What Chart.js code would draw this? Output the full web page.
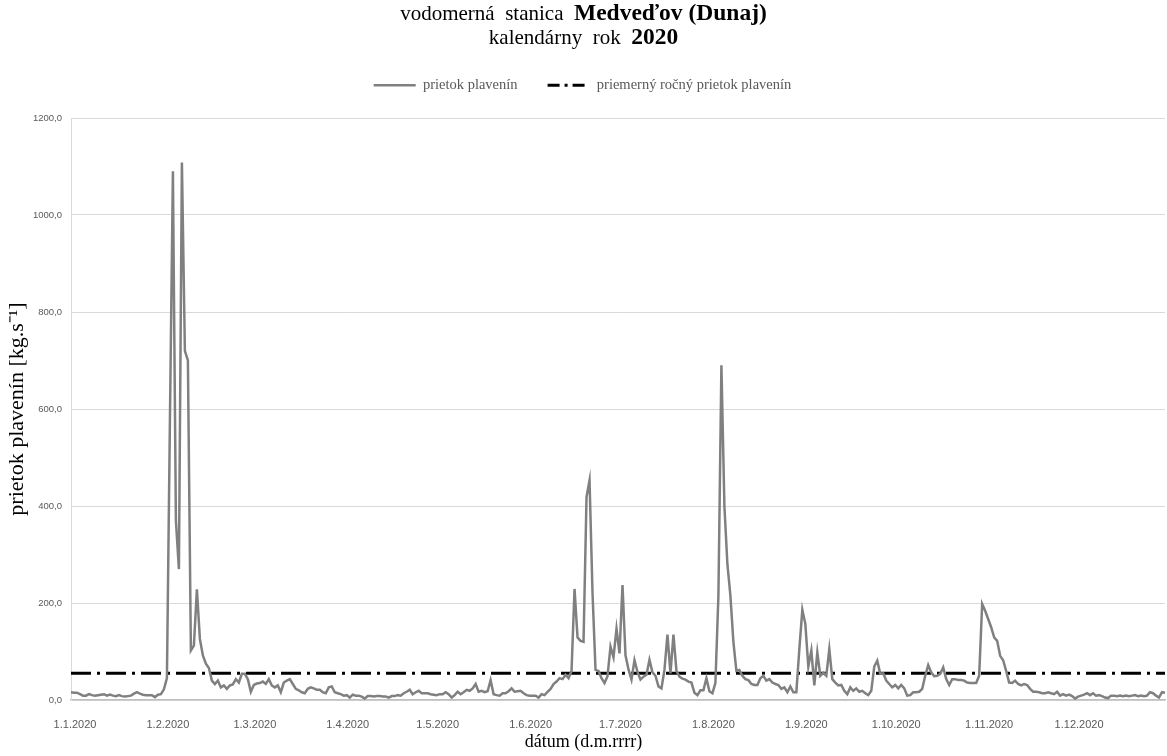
<!DOCTYPE html>
<html lang="sk">
<head>
    <meta charset="UTF-8">
    <title>Medveďov (Dunaj) 2020</title>
    <script src="https://cdn.jsdelivr.net/npm/chart.js"></script>
    <style>
        html, body { margin: 0; padding: 0; background: #fff; }
        #wrap { width: 1167px; height: 756px; }
    </style>
</head>
<body>
<div id="wrap"><canvas id="chart" width="1167" height="756"></canvas></div>
<script>
    // daily suspended sediment discharge [kg/s], read per month
    const jan = [16,15,15,12,9,9,12,10,9,10, 11,12,9,11,9,8,10,8,7,8, 9,13,16,13,11,10,10,10,6,11, 12];
    const feb = [22,45,575,1090,370,270,1108,720,700, 102,112,228,126,92,75,66,40,33,40, 26,30,23,30,32,43,36,54,54,43];
    const mar = [17,31,34,35,38,33,43,30,26,30, 16,36,40,43,33,23,20,16,14,23, 26,24,21,21,16,14,26,28,16,14, 12];
    const apr = [9,10,5,11,9,9,7,3,8, 8,7,8,8,7,7,5,8,8,10, 9,14,17,21,12,16,19,14,14,14, 12];
    const may = [11,10,12,12,16,12,5,10,17, 12,16,21,19,24,33,17,19,16,18, 41,12,10,9,14,14,18,24,17,18, 19,14];
    const jun = [10,9,9,9,5,12,10,17, 23,33,38,45,43,52,45,60,229,129, 122,120,419,453,220,62,60,45,35,49, 110,88];
    const jul = [147,96,237,92,63,42,82,58, 42,48,52,83,57,50,28,24,62,135, 55,135,60,48,44,42,38,36,15,10, 20,20,45];
    const aug = [18,14,35,215,690,400,280, 215,120,60,62,50,43,41,33,31,31, 45,50,40,43,36,33,31,23,26,16, 28,16,16,105];
    const sep = [186,157,69,102,30,98, 50,56,50,105,43,36,30,31,19,12, 26,19,24,17,19,14,10,19,69,81, 54,55,40,33];
    const oct = [26,31,24,31,24,9, 10,16,16,17,23,50,72,57,49,50, 54,67,43,31,43,43,41,41,40,36, 35,35,35,50,198];
    const nov = [184,167,150,129,122, 91,82,60,36,35,40,33,30,33,31, 23,17,17,16,14,14,16,14,12,17, 9,12,9,11,8];
    const dec = [3,7,9,11,14, 10,14,9,10,8,5,4,9,9,8, 9,8,9,8,9,10,8,9,8,9, 16,14,9,5,16,15];

    const months = [jan, feb, mar, apr, may, jun, jul, aug, sep, oct, nov, dec];
    const meanFlow = 55.4;
    const yTicks = [0, 200, 400, 600, 800, 1000, 1200];

    const seriesLabel = 'prietok plavenín';
    const meanLabel = 'priemerný ročný prietok plavenín';
    const xTitle = 'dátum (d.m.rrrr)';
    const yTitle = 'prietok plavenín [kg.s⁻¹]';
    const titleLines = [
        [{ text: 'vodomerná  stanica  ', bold: false }, { text: 'Medveďov (Dunaj)', bold: true }],
        [{ text: 'kalendárny  rok  ', bold: false }, { text: '2020', bold: true }]
    ];

    // date labels d.m.2020 for each daily value
    const dates = [];
    months.forEach((m, mi) => m.forEach((v, di) => dates.push((di + 1) + '.' + (mi + 1) + '.2020')));
    const flow = months.flat();
    const meanLine = dates.map(() => meanFlow);

    const serif = "'Liberation Serif', 'Times New Roman', serif";
    const sans = "'Liberation Sans', Arial, sans-serif";

    // two-line title with bold parts, plus the x axis title centred on the page
    const pageTexts = {
        id: 'pageTexts',
        afterDraw(chart) {
            const ctx = chart.ctx;
            ctx.save();
            ctx.fillStyle = '#000';
            ctx.textBaseline = 'middle';
            ctx.textAlign = 'left';
            const fontOf = r => (r.bold ? 'bold 23.5px ' : '21px ') + serif;
            titleLines.forEach((runs, i) => {
                let total = 0;
                runs.forEach(r => {
                    ctx.font = fontOf(r);
                    r.w = ctx.measureText(r.text).width;
                    total += r.w;
                });
                let x = chart.width / 2 - total / 2;
                const y = 14 + i * 24;
                runs.forEach(r => {
                    ctx.font = fontOf(r);
                    ctx.fillText(r.text, x, y);
                    x += r.w;
                });
            });
            ctx.textAlign = 'center';
            ctx.font = '18px ' + serif;
            ctx.fillText(xTitle, chart.width / 2, 742);
            ctx.restore();
        }
    };

    const ctx = document.getElementById('chart').getContext('2d');
    new Chart(ctx, {
        type: 'line',
        data: {
            labels: dates,
            datasets: [
                {
                    label: seriesLabel,
                    data: flow,
                    borderColor: '#808080',
                    backgroundColor: '#808080',
                    borderWidth: 2.5,
                    pointRadius: 0,
                    tension: 0
                },
                {
                    label: meanLabel,
                    data: meanLine,
                    borderColor: '#000000',
                    backgroundColor: '#000000',
                    borderWidth: 3,
                    borderDash: [20, 6, 3, 6],
                    pointRadius: 0
                }
            ]
        },
        options: {
            responsive: false,
            animation: false,
            devicePixelRatio: 1,
            layout: { padding: { top: 48, right: 2, left: 0, bottom: 0 } },
            plugins: {
                legend: {
                    position: 'top',
                    labels: {
                        usePointStyle: true,
                        pointStyle: 'line',
                        pointStyleWidth: 42,
                        color: '#595959',
                        font: { family: serif, size: 14.5 },
                        padding: 30,
                        generateLabels: function(chart) {
                            const items = Chart.defaults.plugins.legend.labels.generateLabels(chart);
                            items.forEach((item, i) => {
                                const ds = chart.data.datasets[i];
                                item.lineDash = ds.borderDash ? [12, 5, 3, 5] : [];
                                item.lineWidth = ds.borderWidth;
                                item.strokeStyle = ds.borderColor;
                            });
                            return items;
                        }
                    }
                },
                // empty spacer between legend and plot
                subtitle: {
                    display: true,
                    text: ' ',
                    weight: 500,
                    color: 'rgba(0,0,0,0)',
                    font: { size: 10 },
                    padding: { top: 1.5, bottom: 2 }
                },
                tooltip: { enabled: false }
            },
            scales: {
                x: {
                    grid: { display: false },
                    border: { display: true, color: '#bfbfbf', width: 1.5 },
                    ticks: {
                        autoSkip: false,
                        maxRotation: 0,
                        padding: 10,
                        labelOffset: 4,
                        color: '#595959',
                        font: { family: sans, size: 11 },
                        callback: function(value, index) {
                            const lbl = dates[index];
                            return lbl.split('.')[0] === '1' ? lbl : null;
                        }
                    },
                    afterFit: function(scale) { scale.height = 56; }
                },
                y: {
                    min: 0,
                    max: 1200,
                    afterBuildTicks: function(scale) { scale.ticks = yTicks.map(v => ({ value: v })); },
                    grid: { color: '#d9d9d9', lineWidth: 1, drawTicks: false },
                    border: { display: true, color: '#d9d9d9', width: 1 },
                    ticks: {
                        padding: 9,
                        color: '#595959',
                        font: { family: sans, size: 9.5 },
                        callback: function(value) { return value.toFixed(1).replace('.', ','); }
                    },
                    title: {
                        display: true,
                        text: yTitle,
                        color: '#000',
                        font: { family: serif, size: 22 },
                        padding: { top: 4, bottom: 2 }
                    },
                    afterFit: function(scale) { scale.width = 71; }
                }
            }
        },
        plugins: [pageTexts]
    });
</script>
</body>
</html>
